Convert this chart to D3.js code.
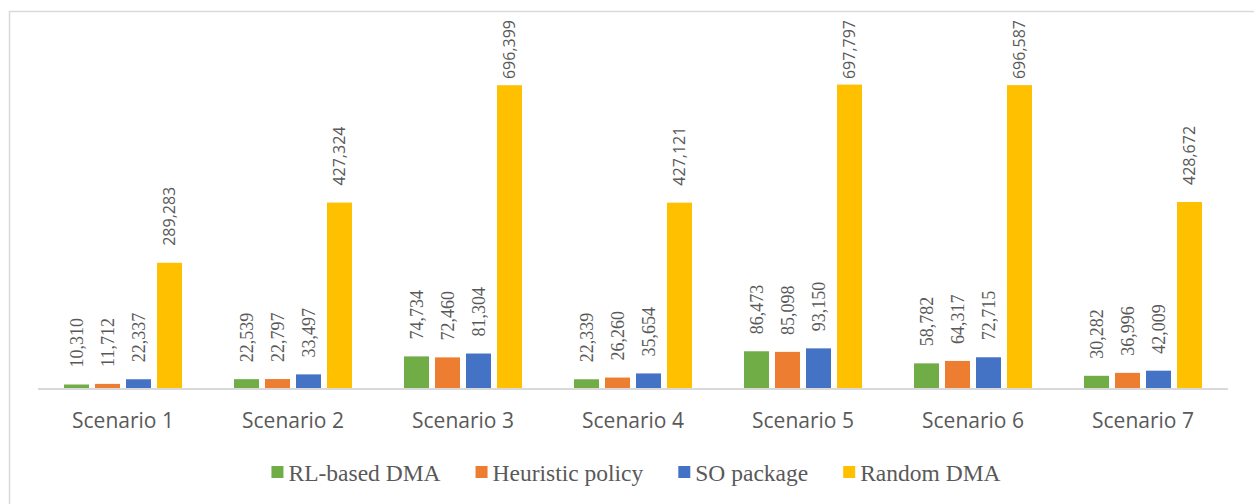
<!DOCTYPE html>
<html>
<head>
<meta charset="utf-8">
<script src="https://cdn.jsdelivr.net/npm/d3@7"></script>
<style>
  html, body { margin: 0; padding: 0; background: #ffffff; }
  svg { display: block; }
</style>
</head>
<body>
<svg id="chart" width="1254" height="504"></svg>
<script>
// Scenario categories and the four policy series
const scenarios = ["Scenario 1", "Scenario 2", "Scenario 3", "Scenario 4", "Scenario 5", "Scenario 6", "Scenario 7"];
const seriesNames = ["RL-based DMA", "Heuristic policy", "SO package", "Random DMA"];
const rlBased   = [10310, 22539, 74734, 22339, 86473, 58782, 30282];
const heuristic = [11712, 22797, 72460, 26260, 85098, 64317, 36996];
const soPackage = [22337, 33497, 81304, 35654, 93150, 72715, 42009];
const randomDma = [289283, 427324, 696399, 427121, 697797, 696587, 428672];
const seriesColors = ["#70AD47", "#ED7D31", "#4472C4", "#FFC000"];
const yMax = 800000;

const seriesValues = [rlBased, heuristic, soPackage, randomDma];

const svg = d3.select("#chart");
const textColor = "#595959";

// Outer frame of the chart area
svg.append("rect")
  .attr("x", 9.5).attr("y", 11.5)
  .attr("width", 1260).attr("height", 510)
  .attr("fill", "#ffffff")
  .attr("stroke", "#d9d9d9").attr("stroke-width", 1.5);

const plot = { left: 38, right: 1228, top: 40, bottom: 389 };

const x0 = d3.scaleBand()
  .domain(scenarios)
  .range([plot.left, plot.right])
  .padding(0);

const x1 = d3.scaleBand()
  .domain(seriesNames)
  .range([0, x0.bandwidth()])
  .paddingInner(6 / 31)
  .paddingOuter(0.839);

const y = d3.scaleLinear()
  .domain([0, yMax])
  .range([plot.bottom, plot.top]);

// Flatten into one record per bar
const bars = [];
scenarios.forEach((sc, i) => {
  seriesNames.forEach((s, j) => {
    bars.push({ scenario: sc, series: s, idx: j, value: seriesValues[j][i] });
  });
});

const groups = svg.append("g").attr("class", "bars");

groups.selectAll("rect")
  .data(bars)
  .join("rect")
  .attr("x", d => x0(d.scenario) + x1(d.series))
  .attr("y", d => y(d.value))
  .attr("width", x1.bandwidth())
  .attr("height", d => y(0) - y(d.value))
  .attr("fill", d => seriesColors[d.idx]);

// Category axis (line + labels)
const xAxis = d3.axisBottom(x0).tickSize(0).tickPadding(0);
const axisG = svg.append("g")
  .attr("transform", `translate(0,${plot.bottom})`)
  .call(xAxis);
axisG.select(".domain")
  .attr("d", `M${plot.left},0H${plot.right}`)
  .attr("stroke", "#d9d9d9").attr("stroke-width", 2);
axisG.selectAll(".tick text")
  .attr("y", 39)
  .attr("dy", 0)
  .attr("fill", textColor)
  .style("font-family", "'Open Sans', sans-serif")
  .style("font-size", "21px");

// Vertical value labels above each bar
const labelGap = 17;
const labelTopLimit = 20;
const fmt = d3.format(",");
const labels = svg.append("g").attr("class", "labels");
bars.forEach(d => {
  const cx = x0(d.scenario) + x1(d.series) + x1.bandwidth() / 2;
  const isRandom = d.idx === 3;
  const t = labels.append("text")
    .attr("fill", textColor)
    .style("font-family", isRandom ? "'Open Sans', sans-serif" : "'Liberation Serif', 'Times New Roman', serif")
    .style("font-size", isRandom ? "16px" : "18px")
    .text(fmt(d.value));
  const len = t.node().getComputedTextLength();
  let bottom = y(d.value) - labelGap;
  if (bottom - len < labelTopLimit) bottom = labelTopLimit + len;
  const capHalf = isRandom ? 5.8 : 6.2;
  t.attr("transform", `translate(${cx + capHalf},${bottom}) rotate(-90)`);
});

// Legend
const legend = svg.append("g").attr("class", "legend");
let lx = 0;
seriesNames.forEach((s, j) => {
  const g = legend.append("g");
  g.append("rect")
    .attr("x", 0).attr("y", -15)
    .attr("width", 12).attr("height", 12)
    .attr("fill", seriesColors[j]);
  const t = g.append("text")
    .attr("x", 17).attr("y", 0)
    .attr("fill", textColor)
    .style("font-family", "'Liberation Serif', 'Times New Roman', serif")
    .style("font-size", "23.5px")
    .text(s);
  const w = 17 + t.node().getComputedTextLength();
  g.attr("transform", `translate(${lx},0)`);
  lx += w + 35;
});
const legendWidth = lx - 35;
legend.attr("transform", `translate(${636 - legendWidth / 2},481)`);
</script>
</body>
</html>
